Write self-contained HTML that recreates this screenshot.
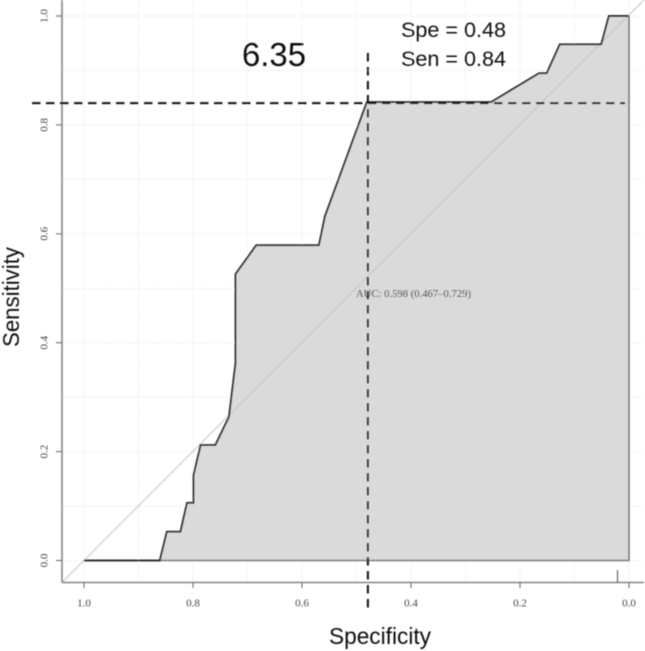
<!DOCTYPE html>
<html lang="en">
<head>
<meta charset="utf-8">
<title>ROC curve</title>
<style>
  html, body { margin: 0; padding: 0; background: #fff; }
  body { width: 645px; height: 651px; overflow: hidden; }
  svg { display: block; }
</style>
</head>
<body>
<svg id="chart" xmlns="http://www.w3.org/2000/svg" width="645" height="651" viewBox="0 0 645 651">
  <defs>
    <filter id="soft" x="-5%" y="-5%" width="110%" height="110%"><feGaussianBlur stdDeviation="0.45"/></filter>
  </defs>
  <rect width="645" height="651" fill="#fff"/>
  <g id="plot" filter="url(#soft)"></g>
</svg>
<script>
const specificity = [1.0, 0.861, 0.848, 0.823, 0.811, 0.799, 0.799, 0.786, 0.759, 0.734, 0.722, 0.722, 0.684, 0.569, 0.558, 0.481, 0.253, 0.165, 0.151, 0.127, 0.051, 0.037, 0.0, 0.0];
const sensitivity = [0.0, 0.0, 0.053, 0.053, 0.106, 0.106, 0.157, 0.212, 0.212, 0.264, 0.363, 0.526, 0.579, 0.579, 0.632, 0.842, 0.842, 0.895, 0.895, 0.948, 0.948, 1.0, 1.0, 0.0];
const axisTicks = [1.0, 0.8, 0.6, 0.4, 0.2, 0.0];
const axisTickLabels = ['1.0', '0.8', '0.6', '0.4', '0.2', '0.0'];
const gridValues = [0.0, 0.1, 0.2, 0.3, 0.4, 0.5, 0.6, 0.7, 0.8, 0.9, 1.0];
const cutoffSpecificity = [0.48];
const cutoffSensitivity = [0.84];
const rugSpecificity = [0.022];

const NS = 'http://www.w3.org/2000/svg';
const plot = document.getElementById('plot');
const xScale = v => 629 - v * 545;
const yScale = v => 560.5 - v * 544.5;
const axisLeft = 62, axisBottom = 582.5, axisRight = 644;

function add(tag, attrs, text) {
  const el = document.createElementNS(NS, tag);
  for (const k in attrs) el.setAttribute(k, attrs[k]);
  if (text !== undefined) el.textContent = text;
  plot.appendChild(el);
  return el;
}

gridValues.forEach(v => {
  const gx = add('line', {x1: xScale(v), x2: xScale(v), y1: 0, y2: axisBottom, stroke: '#efefef', 'stroke-width': 1, 'stroke-dasharray': '2 1'});
  
  
  const gy = add('line', {x1: axisLeft, x2: axisRight, y1: yScale(v), y2: yScale(v), stroke: '#efefef', 'stroke-width': 1, 'stroke-dasharray': '2 1'});
  
  
});

const pts = specificity.map((s, i) => xScale(s) + ',' + yScale(sensitivity[i]));

const area = add('polygon', {points: pts.join(' '), fill: '#dadada', stroke: 'none'});



const diag = add('line', {x1: axisLeft, y1: axisBottom, x2: axisRight, y2: 0, stroke: '#c2c2c2', 'stroke-width': 1});



const base = add('polyline', {points: [pts[pts.length - 2], pts[pts.length - 1], xScale(specificity[1]) + ',' + yScale(0)].join(' '), fill: 'none', stroke: '#777', 'stroke-width': 1.6});



const roc = add('polyline', {points: pts.slice(0, -1).join(' '), fill: 'none', stroke: '#333', 'stroke-width': 1.9, 'stroke-linejoin': 'miter'});



const xAxis = add('line', {x1: axisLeft, x2: axisRight, y1: axisBottom, y2: axisBottom, stroke: '#858585', 'stroke-width': 1.6});


const yAxis = add('line', {x1: axisLeft, x2: axisLeft, y1: 0, y2: axisBottom, stroke: '#858585', 'stroke-width': 1.6});



axisTicks.forEach((v, i) => {
  const tx = add('line', {x1: xScale(v), x2: xScale(v), y1: axisBottom, y2: axisBottom + 5.5, stroke: '#666', 'stroke-width': 1});
  
  
  const lx = add('text', {x: xScale(v), y: 606.5, 'text-anchor': 'middle', 'font-family': '"Liberation Serif", serif', 'font-size': 11, fill: '#444'}, axisTickLabels[i]);
  
  
  const ty = add('line', {x1: axisLeft - 6, x2: axisLeft, y1: yScale(v), y2: yScale(v), stroke: '#666', 'stroke-width': 1});
  
  
  const ly = add('text', {transform: 'translate(47.5 ' + yScale(v) + ') rotate(-90)', 'text-anchor': 'middle', 'font-family': '"Liberation Serif", serif', 'font-size': 11, fill: '#444'}, axisTickLabels[i]);
  
  
});

rugSpecificity.forEach(v => {
  const rug = add('line', {x1: xScale(v) + 0.5, x2: xScale(v) + 0.5, y1: 570, y2: axisBottom, stroke: '#666', 'stroke-width': 1.2});
  
  
});

const auc = add('text', {x: 356, y: 297, 'font-family': '"Liberation Serif", serif', 'font-size': 10.5, fill: '#222', textLength: 115, lengthAdjust: 'spacingAndGlyphs'}, 'AUC: 0.598 (0.467\u20130.729)');



const hCut = add('line', {x1: 32, x2: 625, y1: yScale(cutoffSensitivity[0]), y2: yScale(cutoffSensitivity[0]), stroke: '#111', 'stroke-width': 2, 'stroke-dasharray': '8.5 5.5'});


const vCut = add('line', {x1: xScale(cutoffSpecificity[0]) + 0.5, x2: xScale(cutoffSpecificity[0]) + 0.5, y1: 53, y2: 613, stroke: '#111', 'stroke-width': 2, 'stroke-dasharray': '8.5 5.5'});



const sans = '"Liberation Sans", sans-serif';
const cutoff = add('text', {x: 242, y: 66, 'font-family': sans, 'font-size': 33, fill: '#111', textLength: 64, lengthAdjust: 'spacingAndGlyphs'}, '6.35');


const spe = add('text', {x: 401, y: 37, 'font-family': sans, 'font-size': 21.5, fill: '#111', textLength: 105, lengthAdjust: 'spacingAndGlyphs'}, 'Spe = 0.48');


const sen = add('text', {x: 401, y: 66, 'font-family': sans, 'font-size': 21.5, fill: '#111', textLength: 105, lengthAdjust: 'spacingAndGlyphs'}, 'Sen = 0.84');


const xTitle = add('text', {x: 329, y: 644, 'font-family': sans, 'font-size': 23, fill: '#111', textLength: 102, lengthAdjust: 'spacingAndGlyphs'}, 'Specificity');


const yTitle = add('text', {transform: 'translate(19 347) rotate(-90)', 'font-family': sans, 'font-size': 23, fill: '#111', textLength: 100, lengthAdjust: 'spacingAndGlyphs'}, 'Sensitivity');


</script>
</body>
</html>
